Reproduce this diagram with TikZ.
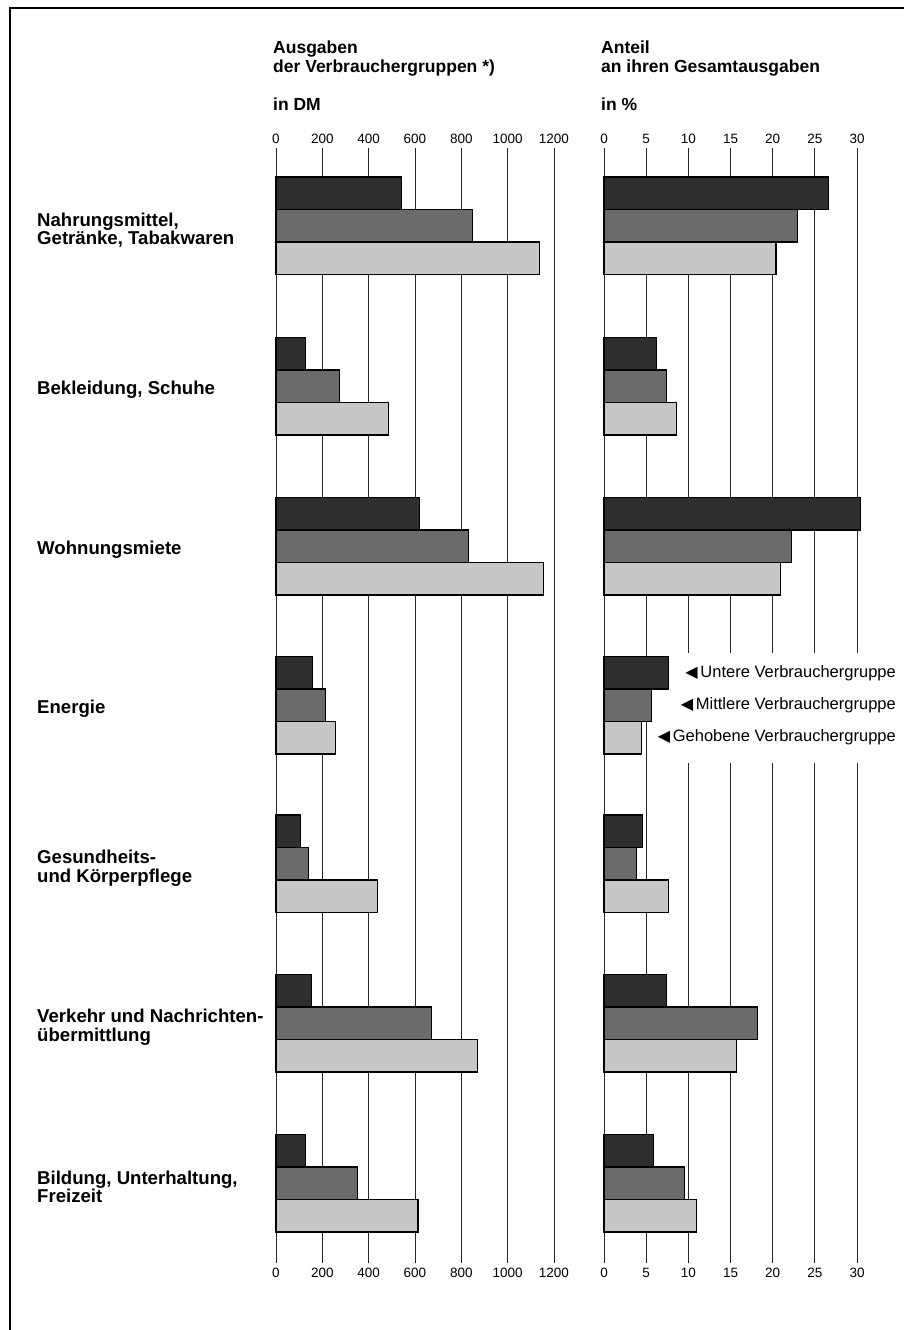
\documentclass[tikz,border=0pt]{standalone}
\usepackage{fontspec}
\setmainfont{Liberation Sans}
\newfontfamily\symfont{DejaVu Sans}
\begin{document}
\begin{tikzpicture}[x=1pt,y=-1pt,
  grid/.style={line width=0.9pt, black!85},
  bar/.style={draw=black, line width=1.1pt},
  dk/.style={bar, fill=black!82},
  md/.style={bar, fill=black!58},
  lt/.style={bar, fill=black!22},
  cat/.style={font=\fontsize{18.6}{18.5}\selectfont\bfseries, align=left, anchor=west, inner sep=0pt},
  head/.style={font=\fontsize{17.5}{19}\selectfont\bfseries, anchor=base west, inner sep=0pt},
  ticklab/.style={font=\fontsize{13.5}{14}\selectfont, anchor=base, inner sep=0pt},
  leg/.style={font=\fontsize{16.5}{17}\selectfont, anchor=east, inner sep=1pt}]
\useasboundingbox (0,0) rectangle (904,1330);
% frame
\draw[line width=1.4pt] (904,8) -- (10,8) -- (10,1330);
% headings
\node[head] (hA1) at (273,54) {Ausgaben};
\node[head] (hA2) at (273,73) {der Verbrauchergruppen *)};
\node[head] (hA3) at (273,110) {in DM};
\node[head] (hB1) at (601,54) {Anteil};
\node[head] (hB2) at (601,73) {an ihren Gesamtausgaben};
\node[head] (hB3) at (601,110) {in \%};
% grid lines
\foreach \i in {0,...,6} {
  \draw[grid] ({276+\i*46.33},148) -- ({276+\i*46.33},1263);
  \draw[grid] ({604+\i*42.17},148) -- ({604+\i*42.17},1263);
}
% tick labels
\foreach \v [count=\i from 0] in {0,200,400,600,800,1000,1200} {
  \node[ticklab] (tlt\i) at ({276+\i*46.33},143) {\v};
  \node[ticklab] (tlb\i) at ({276+\i*46.33},1277) {\v};
}
\foreach \v [count=\i from 0] in {0,5,10,15,20,25,30} {
  \node[ticklab] (trt\i) at ({604+\i*42.17},143) {\v};
  \node[ticklab] (trb\i) at ({604+\i*42.17},1277) {\v};
}
% mask behind legend
\fill[white] (660,653) rectangle (904,763);
% bars
\foreach \t/\a/\b/\c/\p/\q/\r in {
  177/540/847/1136/26.6/22.9/20.4,
  337.5/126/276/486/6.2/7.4/8.6,
  497.5/618/829/1153/30.4/22.2/20.9,
  656.5/159/213/257/7.7/5.6/4.4,
  815/104/139/438/4.6/3.8/7.7,
  974.5/155/673/870/7.4/18.2/15.7,
  1134.5/126/352/613/5.9/9.5/11.0} {
  \draw[dk] (276,\t) rectangle ({276+\a*0.23167},{\t+32.5});
  \draw[md] (276,{\t+32.5}) rectangle ({276+\b*0.23167},{\t+65});
  \draw[lt] (276,{\t+65}) rectangle ({276+\c*0.23167},{\t+97.5});
  \draw[dk] (604,\t) rectangle ({604+\p*8.433},{\t+32.5});
  \draw[md] (604,{\t+32.5}) rectangle ({604+\q*8.433},{\t+65});
  \draw[lt] (604,{\t+65}) rectangle ({604+\r*8.433},{\t+97.5});
}
% category labels
\node[cat] (c1) at (37,230) {Nahrungsmittel,\\Getränke, Tabakwaren};
\node[cat] (c2) at (37,390) {Bekleidung, Schuhe};
\node[cat] (c3) at (37,550) {Wohnungsmiete};
\node[cat] (c4) at (37,709) {Energie};
\node[cat] (c5) at (37,868) {Gesundheits-\\und Körperpflege};
\node[cat] (c6) at (37,1027) {Verkehr und Nachrichten-\\übermittlung};
\node[cat] (c7) at (37,1187) {Bildung, Unterhaltung,\\Freizeit};
% legend
\node[leg] (l1) at (897,673) {{\symfont\fontsize{16}{16}\selectfont ◀}\,Untere Verbrauchergruppe};
\node[leg] (l2) at (897,705) {{\symfont\fontsize{16}{16}\selectfont ◀}\,Mittlere Verbrauchergruppe};
\node[leg] (l3) at (897,737) {{\symfont\fontsize{16}{16}\selectfont ◀}\,Gehobene Verbrauchergruppe};
\end{tikzpicture}
\end{document}
